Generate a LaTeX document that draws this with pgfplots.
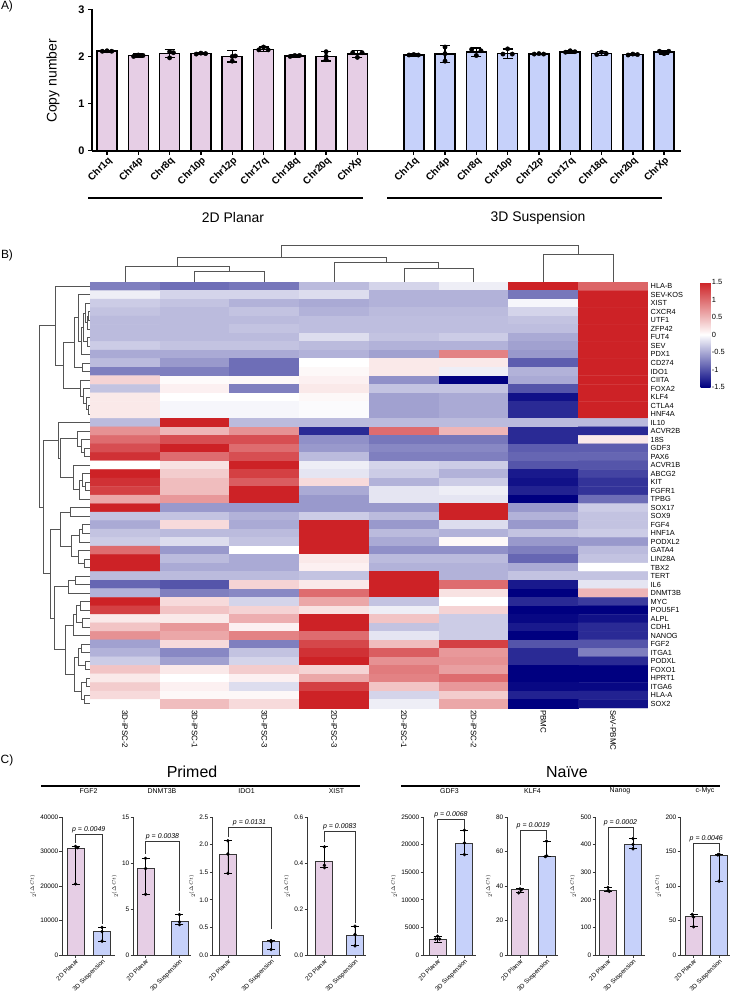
\documentclass[border=0pt]{standalone}
\usepackage{fontspec}
\setmainfont{Liberation Sans}
\usepackage{pgfplots}
\pgfplotsset{compat=1.18}

\definecolor{pinkbar}{RGB}{230,206,229}
\definecolor{bluebar}{RGB}{198,209,250}
\definecolor{dendro}{RGB}{85,85,85}
\definecolor{caxis}{RGB}{55,55,55}

% dendrogram pieces: child positions, node height, child heights
\newcommand{\rn}[5]{\addplot[dendro, line width=0.7bp] coordinates {(#4,#1) (#3,#1) (#3,#2) (#5,#2)};}
\newcommand{\cn}[5]{\addplot[dendro, line width=0.7bp] coordinates {(#1,#4) (#1,#3) (#2,#3) (#2,#5)};}

\pgfplotsset{
  /pgf/number format/assume math mode=true,
  qpcr/.style={
    scale only axis, height=138bp, ymin=0, clip=false,
    axis lines*=left, axis line style={caxis, line width=0.9bp},
    tick style={caxis, line width=0.8bp}, major tick length=2.5bp, tick align=outside,
    xtick={1,2}, xticklabels={2D Planar,3D Suspension},
    xticklabel style={rotate=45, anchor=north east, font=\fontsize{6.3}{7}\selectfont, inner sep=0.5bp},
    yticklabel style={font=\fontsize{6.5}{7}\selectfont, inner sep=1bp},
    ylabel={$2^{(\Delta Ct)}$}, ylabel style={font=\fontsize{5}{6}\selectfont},
    title style={font=\fontsize{7}{8}\selectfont, at={(0.5,1)}, anchor=south, yshift=14bp},
    scaled y ticks=false, /pgf/number format/1000 sep={},
  },
  cbar/.style={ybar, bar shift=0pt, bar width=17bp, draw=caxis, line width=0.9bp,
    /pgfplots/error bars/y dir=both, /pgfplots/error bars/y explicit,
    /pgfplots/error bars/error bar style={black, line width=0.9bp},
    /pgfplots/error bars/error mark options={black, line width=0.9bp, mark size=4bp, rotate=90}},
  cpts/.style={only marks, mark=*, mark size=1.5bp, black},
  pbr/.style={caxis, line width=0.9bp},
}
\newcommand{\pval}[2]{\node[above, font=\fontsize{7}{8}\selectfont\itshape, inner sep=1.5bp] at (axis cs:1.5,#1) {p = #2};}

\begin{document}
\begin{tikzpicture}
\useasboundingbox (0,0) rectangle (732bp,-992bp);

% ---------------- A) copy number ----------------
\node[font=\fontsize{12}{14}\selectfont] at (7bp,-6bp) {A)};
\begin{axis}[
  at={(92bp,-9.3bp)}, anchor=north west, scale only axis,
  width=589bp, height=141.4bp,
  xmin=-0.48, xmax=18.34, ymin=0, ymax=3,
  axis lines*=left, axis line style={line width=1.6bp},
  ytick={0,1,2,3},
  yticklabel style={font=\fontsize{11}{12}\selectfont\bfseries},
  xtick={0,1,2,3,4,5,6,7,8,9.8,10.8,11.8,12.8,13.8,14.8,15.8,16.8,17.8},
  xticklabels={Chr1q,Chr4p,Chr8q,Chr10p,Chr12p,Chr17q,Chr18q,Chr20q,ChrXp,
               Chr1q,Chr4p,Chr8q,Chr10p,Chr12p,Chr17q,Chr18q,Chr20q,ChrXp},
  xticklabel style={rotate=45, anchor=north east, font=\fontsize{10}{11}\selectfont\bfseries, inner sep=0.5bp},
  tick style={line width=1.4bp, black}, major tick length=4bp, tick align=outside,
  clip=false,
]
\addplot[ybar, bar shift=0pt, bar width=20bp, fill=pinkbar, draw=black, line width=1.6bp,
  error bars/.cd, y dir=both, y explicit,
  error bar style={black, line width=1.3bp},
  error mark options={black, line width=1.3bp, mark size=5bp, rotate=90}]
coordinates {
  (0,2.11) +- (0,0.02) (1,2.02) +- (0,0.03) (2,2.06) +- (0,0.09)
  (3,2.06) +- (0,0.02) (4,2.00) +- (0,0.12) (5,2.15) +- (0,0.05)
  (6,2.01) +- (0,0.02) (7,2.00) +- (0,0.10) (8,2.05) +- (0,0.07)
};
\addplot[ybar, bar shift=0pt, bar width=20bp, fill=bluebar, draw=black, line width=1.6bp,
  error bars/.cd, y dir=both, y explicit,
  error bar style={black, line width=1.3bp},
  error mark options={black, line width=1.3bp, mark size=5bp, rotate=90}]
coordinates {
  (9.8,2.03) +- (0,0.02) (10.8,2.05) +- (0,0.18) (11.8,2.09) +- (0,0.09)
  (12.8,2.06) +- (0,0.10) (13.8,2.05) +- (0,0.01) (14.8,2.10) +- (0,0.03)
  (15.8,2.06) +- (0,0.04) (16.8,2.04) +- (0,0.02) (17.8,2.09) +- (0,0.04)
};
\addplot[only marks, mark=*, mark size=2.2bp, black] coordinates {
  (-0.15,2.11) (0,2.12) (0.15,2.11) (0.85,2.00) (1,2.03) (1.15,2.02)
  (2,2.10) (2,1.97) (2.12,2.08) (2.85,2.05) (3,2.07) (3.15,2.06)
  (4,2.00) (4,1.90) (4.1,2.01) (4.85,2.14) (5,2.20) (5.15,2.14)
  (5.85,2.00) (6,2.02) (6.15,2.02) (7,2.10) (7,2.00) (7,1.93)
  (7.85,2.08) (8,1.98) (8.15,2.08)
  (9.65,2.03) (9.8,2.04) (9.95,2.03) (10.8,2.20) (10.8,2.06) (10.8,1.90)
  (11.65,2.15) (11.8,2.02) (11.95,2.12) (12.65,2.05) (12.8,2.16) (12.95,2.05)
  (13.65,2.05) (13.8,2.06) (13.95,2.05) (14.65,2.09) (14.8,2.12) (14.95,2.10)
  (15.65,2.04) (15.8,2.09) (15.95,2.06) (16.65,2.03) (16.8,2.05) (16.95,2.04)
  (17.65,2.11) (17.8,2.06) (17.95,2.11)
};
\end{axis}
\node[rotate=90, font=\fontsize{14}{16}\selectfont] at (53bp,-81bp) {Copy number};
\draw[line width=2.8bp] (88bp,-198bp) -- (363bp,-198bp);
\draw[line width=2.8bp] (387bp,-198bp) -- (662bp,-198bp);
\node[font=\fontsize{14}{16}\selectfont] at (233bp,-218bp) {2D Planar};
\node[font=\fontsize{14}{16}\selectfont] at (538bp,-218bp) {3D Suspension};

% ---------------- B) heatmap ----------------
\node[font=\fontsize{12}{14}\selectfont] at (7bp,-255bp) {B)};
\begin{axis}[
  at={(90bp,-282bp)}, anchor=north west, scale only axis,
  width=558bp, height=426bp,
  xmin=0.5, xmax=8.5, ymin=0.5, ymax=50.5, y dir=reverse,
  axis line style={draw=none}, tick style={draw=none},
  xtick={1,...,8},
  xticklabels={3D-iPSC-2,3D-iPSC-1,3D-iPSC-3,2D-iPSC-3,2D-iPSC-1,2D-iPSC-2,PBMC,SeV-PBMC},
  xticklabel style={rotate=-90, anchor=west, font=\fontsize{8}{9}\selectfont, inner sep=2bp},
  ytick={1,...,50},
  yticklabels={HLA-B,SEV-KOS,XIST,CXCR4,UTF1,ZFP42,FUT4,SEV,PDX1,CD274,IDO1,CIITA,FOXA2,KLF4,CTLA4,HNF4A,
    IL10,ACVR2B,18S,GDF3,PAX6,ACVR1B,ABCG2,KIT,FGFR1,TPBG,SOX17,SOX9,FGF4,HNF1A,PODXL2,GATA4,LIN28A,TBX2,
    TERT,IL6,DNMT3B,MYC,POU5F1,ALPL,CDH1,NANOG,FGF2,ITGA1,PODXL,FOXO1,HPRT1,ITGA6,HLA-A,SOX2},
  yticklabel pos=right,
  yticklabel style={font=\fontsize{7.4}{8}\selectfont, inner sep=0pt, xshift=2.5bp},
  colormap={hm}{rgb255(0cm)=(0,0,128); rgb255(1cm)=(255,255,255); rgb255(2cm)=(205,34,38)},
  point meta min=-1.5, point meta max=1.5,
  colorbar,
  colorbar style={at={(1.0945,1)}, anchor=north west, width=10bp, height=105bp,
    ytick={-1.5,-1,-0.5,0,0.5,1,1.5},
    yticklabel style={font=\fontsize{7.5}{8}\selectfont, inner sep=1bp},
    tick style={draw=none}, axis line style={draw=none}},
]
\addplot[matrix plot*, mesh/cols=8, point meta=explicit] coordinates {
(1,1)[-0.75] (2,1)[-0.85] (3,1)[-0.8] (4,1)[-0.4] (5,1)[-0.25] (6,1)[-0.1] (7,1)[1.5] (8,1)[1.05]
(1,2)[-0.1] (2,2)[-0.25] (3,2)[-0.25] (4,2)[-0.2] (5,2)[-0.45] (6,2)[-0.45] (7,2)[-0.8] (8,2)[1.5]
(1,3)[-0.3] (2,3)[-0.35] (3,3)[-0.45] (4,3)[-0.5] (5,3)[-0.45] (6,3)[-0.45] (7,3)[-0.05] (8,3)[1.5]
(1,4)[-0.35] (2,4)[-0.4] (3,4)[-0.35] (4,4)[-0.45] (5,4)[-0.4] (6,4)[-0.4] (7,4)[-0.25] (8,4)[1.5]
(1,5)[-0.4] (2,5)[-0.4] (3,5)[-0.4] (4,5)[-0.38] (5,5)[-0.38] (6,5)[-0.38] (7,5)[-0.35] (8,5)[1.5]
(1,6)[-0.4] (2,6)[-0.4] (3,6)[-0.35] (4,6)[-0.38] (5,6)[-0.38] (6,6)[-0.38] (7,6)[-0.38] (8,6)[1.5]
(1,7)[-0.4] (2,7)[-0.4] (3,7)[-0.4] (4,7)[-0.2] (5,7)[-0.35] (6,7)[-0.3] (7,7)[-0.5] (8,7)[1.5]
(1,8)[-0.3] (2,8)[-0.35] (3,8)[-0.35] (4,8)[-0.4] (5,8)[-0.45] (6,8)[-0.45] (7,8)[-0.55] (8,8)[1.5]
(1,9)[-0.5] (2,9)[-0.5] (3,9)[-0.5] (4,9)[-0.45] (5,9)[-0.55] (6,9)[0.85] (7,9)[-0.6] (8,9)[1.5]
(1,10)[-0.4] (2,10)[-0.6] (3,10)[-0.85] (4,10)[0.0] (5,10)[0.15] (6,10)[0.15] (7,10)[-0.95] (8,10)[1.5]
(1,11)[-0.75] (2,11)[-0.75] (3,11)[-0.85] (4,11)[0.05] (5,11)[0.15] (6,11)[-0.1] (7,11)[-0.45] (8,11)[1.5]
(1,12)[0.3] (2,12)[0.03] (3,12)[0.05] (4,12)[0.1] (5,12)[-0.65] (6,12)[-1.5] (7,12)[-0.5] (8,12)[1.5]
(1,13)[-0.35] (2,13)[0.1] (3,13)[-0.75] (4,13)[0.15] (5,13)[-0.35] (6,13)[-0.35] (7,13)[-1.0] (8,13)[1.5]
(1,14)[0.15] (2,14)[0.0] (3,14)[0.0] (4,14)[0.05] (5,14)[-0.55] (6,14)[-0.5] (7,14)[-1.4] (8,14)[1.5]
(1,15)[0.15] (2,15)[-0.05] (3,15)[-0.05] (4,15)[-0.02] (5,15)[-0.55] (6,15)[-0.5] (7,15)[-1.25] (8,15)[1.5]
(1,16)[0.15] (2,16)[-0.05] (3,16)[-0.05] (4,16)[-0.02] (5,16)[-0.55] (6,16)[-0.5] (7,16)[-1.25] (8,16)[1.5]
(1,17)[-0.4] (2,17)[1.5] (3,17)[-0.4] (4,17)[-0.4] (5,17)[-0.4] (6,17)[-0.4] (7,17)[-0.4] (8,17)[-0.4]
(1,18)[0.75] (2,18)[0.5] (3,18)[0.75] (4,18)[-1.25] (5,18)[1.0] (6,18)[0.5] (7,18)[-1.25] (8,18)[-1.25]
(1,19)[1.0] (2,19)[1.2] (3,19)[1.2] (4,19)[-0.65] (5,19)[-0.8] (6,19)[-0.8] (7,19)[-1.25] (8,19)[0.15]
(1,20)[1.2] (2,20)[1.5] (3,20)[1.0] (4,20)[-0.6] (5,20)[-0.7] (6,20)[-0.7] (7,20)[-0.95] (8,20)[-0.95]
(1,21)[1.4] (2,21)[1.0] (3,21)[1.2] (4,21)[-0.4] (5,21)[-0.75] (6,21)[-0.75] (7,21)[-0.9] (8,21)[-0.9]
(1,22)[0.0] (2,22)[0.2] (3,22)[1.5] (4,22)[-0.1] (5,22)[-0.25] (6,22)[-0.3] (7,22)[-1.0] (8,22)[-1.0]
(1,23)[1.5] (2,23)[0.35] (3,23)[1.3] (4,23)[-0.15] (5,23)[-0.3] (6,23)[-0.45] (7,23)[-1.35] (8,23)[-1.1]
(1,24)[1.4] (2,24)[0.45] (3,24)[1.1] (4,24)[0.25] (5,24)[-0.45] (6,24)[-0.3] (7,24)[-1.4] (8,24)[-1.2]
(1,25)[1.3] (2,25)[0.45] (3,25)[1.5] (4,25)[-0.5] (5,25)[-0.15] (6,25)[-0.1] (7,25)[-1.3] (8,25)[-1.2]
(1,26)[0.6] (2,26)[0.7] (3,26)[1.5] (4,26)[-0.6] (5,26)[-0.15] (6,26)[-0.15] (7,26)[-1.5] (8,26)[-0.85]
(1,27)[1.5] (2,27)[-0.6] (3,27)[-0.6] (4,27)[-0.6] (5,27)[-0.6] (6,27)[1.5] (7,27)[-0.6] (8,27)[-0.3]
(1,28)[-0.35] (2,28)[-0.35] (3,28)[-0.45] (4,28)[-0.3] (5,28)[-0.4] (6,28)[1.5] (7,28)[-0.45] (8,28)[-0.35]
(1,29)[-0.5] (2,29)[0.25] (3,29)[-0.5] (4,29)[1.5] (5,29)[-0.6] (6,29)[-0.2] (7,29)[-0.6] (8,29)[-0.35]
(1,30)[-0.35] (2,30)[-0.4] (3,30)[-0.4] (4,30)[1.5] (5,30)[-0.4] (6,30)[-0.45] (7,30)[-0.35] (8,30)[-0.3]
(1,31)[-0.3] (2,31)[-0.2] (3,31)[-0.35] (4,31)[1.5] (5,31)[-0.5] (6,31)[0.05] (7,31)[-0.6] (8,31)[-0.6]
(1,32)[1.0] (2,32)[-0.6] (3,32)[0.0] (4,32)[1.5] (5,32)[-0.65] (6,32)[-0.65] (7,32)[-0.75] (8,32)[-0.4]
(1,33)[1.5] (2,33)[-0.4] (3,33)[-0.5] (4,33)[0.15] (5,33)[-0.4] (6,33)[-0.4] (7,33)[-0.9] (8,33)[-0.35]
(1,34)[1.5] (2,34)[-0.5] (3,34)[-0.5] (4,34)[0.1] (5,34)[-0.45] (6,34)[-0.45] (7,34)[-0.5] (8,34)[0.0]
(1,35)[-0.4] (2,35)[-0.4] (3,35)[-0.4] (4,35)[-0.35] (5,35)[1.5] (6,35)[-0.45] (7,35)[-0.35] (8,35)[-0.35]
(1,36)[-0.9] (2,36)[-1.0] (3,36)[0.3] (4,36)[0.15] (5,36)[1.5] (6,36)[1.0] (7,36)[-1.35] (8,36)[-0.15]
(1,37)[-0.45] (2,37)[-0.75] (3,37)[-0.7] (4,37)[1.0] (5,37)[1.5] (6,37)[0.2] (7,37)[-1.5] (8,37)[0.5]
(1,38)[1.5] (2,38)[0.25] (3,38)[-0.25] (4,38)[0.6] (5,38)[-0.35] (6,38)[0.0] (7,38)[-1.25] (8,38)[-1.15]
(1,39)[1.3] (2,39)[0.4] (3,39)[0.3] (4,39)[0.2] (5,39)[-0.1] (6,39)[0.3] (7,39)[-1.5] (8,39)[-1.5]
(1,40)[0.15] (2,40)[0.15] (3,40)[0.55] (4,40)[1.5] (5,40)[0.4] (6,40)[-0.3] (7,40)[-1.45] (8,40)[-1.4]
(1,41)[0.4] (2,41)[0.7] (3,41)[0.1] (4,41)[1.5] (5,41)[-0.35] (6,41)[-0.3] (7,41)[-1.35] (8,41)[-1.25]
(1,42)[0.75] (2,42)[0.6] (3,42)[0.85] (4,42)[1.0] (5,42)[-0.15] (6,42)[-0.3] (7,42)[-1.5] (8,42)[-1.25]
(1,43)[-0.55] (2,43)[0.25] (3,43)[-0.75] (4,43)[1.25] (5,43)[0.45] (6,43)[1.3] (7,43)[-1.0] (8,43)[-1.0]
(1,44)[-0.45] (2,44)[-0.7] (3,44)[-0.35] (4,44)[1.4] (5,44)[1.1] (6,44)[0.7] (7,44)[-1.25] (8,44)[-0.75]
(1,45)[-0.3] (2,45)[-0.55] (3,45)[-0.25] (4,45)[1.5] (5,45)[0.75] (6,45)[0.75] (7,45)[-1.25] (8,45)[-1.25]
(1,46)[0.4] (2,46)[0.15] (3,46)[0.35] (4,46)[0.3] (5,46)[0.9] (6,46)[0.65] (7,46)[-1.5] (8,46)[-1.5]
(1,47)[0.15] (2,47)[0.0] (3,47)[0.1] (4,47)[0.6] (5,47)[0.85] (6,47)[1.0] (7,47)[-1.5] (8,47)[-1.5]
(1,48)[0.35] (2,48)[0.1] (3,48)[-0.2] (4,48)[1.3] (5,48)[0.4] (6,48)[0.7] (7,48)[-1.45] (8,48)[-1.45]
(1,49)[0.25] (2,49)[0.05] (3,49)[0.05] (4,49)[1.5] (5,49)[-0.25] (6,49)[0.35] (7,49)[-1.3] (8,49)[-1.3]
(1,50)[0.0] (2,50)[0.45] (3,50)[0.25] (4,50)[1.5] (5,50)[-0.1] (6,50)[0.6] (7,50)[-1.5] (8,50)[-1.4]
};
\end{axis}

% column dendrogram
\begin{axis}[at={(90bp,-282bp)}, anchor=south west, scale only axis,
  width=558bp, height=37bp, xmin=0.5, xmax=8.5, ymin=0, ymax=37, hide axis, clip=false]
\cn{2}{3}{11}{0}{0}
\cn{1}{2.5}{16}{0}{11}
\cn{5}{6}{14}{0}{0}
\cn{4}{5.5}{20}{0}{14}
\cn{1.75}{4.75}{25}{16}{20}
\cn{7}{8}{28}{0}{0}
\cn{3.25}{7.5}{37}{25}{28}
\end{axis}

% row dendrogram
\begin{axis}[at={(90bp,-282bp)}, anchor=north east, scale only axis,
  width=52bp, height=426bp, xmin=0, xmax=52, x dir=reverse,
  ymin=0.5, ymax=50.5, y dir=reverse, hide axis, clip=false]
\rn{4}{5}{2}{0}{0}
\rn{4.5}{6}{3}{2}{0}
\rn{3}{5.25}{5}{0}{3}
\rn{7}{8}{3}{0}{0}
\rn{4.125}{7.5}{7}{5}{3}
\rn{5.8125}{9}{9}{7}{0}
\rn{2}{7.40625}{12}{0}{9}
\rn{10}{11}{8}{0}{0}
\rn{4.703}{10.5}{16}{12}{8}
\rn{15}{16}{2}{0}{0}
\rn{14}{15.5}{4}{0}{2}
\rn{13}{14.75}{7}{0}{4}
\rn{12}{13.875}{10}{0}{7}
\rn{7.6016}{12.9375}{27}{16}{10}
\rn{1}{10.2695}{35}{0}{27}
\rn{20}{21}{6}{0}{0}
\rn{19}{20.5}{9}{0}{6}
\rn{18}{19.75}{13}{0}{9}
\rn{24}{25}{5}{0}{0}
\rn{23}{24.5}{8}{0}{5}
\rn{23.75}{26}{11}{8}{0}
\rn{22}{24.875}{17}{0}{11}
\rn{18.875}{23.4375}{30}{13}{17}
\rn{17}{21.15625}{32}{0}{30}
\rn{27}{28}{20}{0}{0}
\rn{29}{30}{8}{0}{0}
\rn{29.5}{31}{11}{8}{0}
\rn{33}{34}{6}{0}{0}
\rn{32}{33.5}{12}{0}{6}
\rn{30.25}{32.75}{19}{11}{12}
\rn{27.5}{31.5}{30}{20}{19}
\rn{35}{36}{15}{0}{0}
\rn{35.5}{37}{22}{15}{0}
\rn{38}{39}{10}{0}{0}
\rn{40}{41}{8}{0}{0}
\rn{38.5}{40.5}{14}{10}{8}
\rn{39.5}{42}{17}{14}{0}
\rn{43}{44}{9}{0}{0}
\rn{45}{46}{5}{0}{0}
\rn{43.5}{45.5}{12}{9}{5}
\rn{47}{48}{4}{0}{0}
\rn{49}{50}{6}{0}{0}
\rn{47.5}{49.5}{9}{4}{6}
\rn{44.5}{48.5}{16}{12}{9}
\rn{40.75}{46.5}{25}{17}{16}
\rn{36.25}{43.625}{36}{22}{25}
\rn{29.5}{39.9375}{40}{30}{36}
\rn{19.078}{34.71875}{47}{32}{40}
\rn{5.6348}{26.898}{51}{35}{47}
\end{axis}

% ---------------- C) qPCR ----------------
\node[font=\fontsize{12}{14}\selectfont] at (7bp,-760bp) {C)};
\node[font=\fontsize{16}{18}\selectfont] at (192bp,-772bp) {Primed};
\node[font=\fontsize{16}{18}\selectfont] at (567bp,-772bp) {Naïve};
\draw[line width=1.2bp] (41bp,-786bp) -- (360bp,-786bp);
\draw[line width=1.2bp] (401bp,-786bp) -- (720bp,-786bp);

\begin{axis}[qpcr, at={(62bp,-817bp)}, anchor=north west, width=53bp,
  xmin=0.49, xmax=2.49, ymax=40000, ytick={0,10000,20000,30000,40000}, title={FGF2}]
\addplot[cbar, fill=pinkbar] coordinates {(1,31000) += (0,500) -= (0,10500)};
\addplot[cbar, fill=bluebar] coordinates {(2,6800) += (0,1200) -= (0,2800)};
\addplot[cpts] coordinates {(1,31500) (1.08,31100) (1,20600) (2,8000) (2,6800) (2,4000)};
\addplot[pbr] coordinates {(1,32500) (1,35000) (2,35000) (2,9000)};
\pval{35000}{0.0049}
\end{axis}

\begin{axis}[qpcr, at={(133bp,-817bp)}, anchor=north west, width=58bp,
  xmin=0.63, xmax=2.34, ymax=15, ytick={0,5,10,15}, title={DNMT3B}]
\addplot[cbar, fill=pinkbar] coordinates {(1,9.4) += (0,1.1) -= (0,2.8)};
\addplot[cbar, fill=bluebar] coordinates {(2,3.65) += (0,0.75) -= (0,0.35)};
\addplot[cpts] coordinates {(1,10.5) (1,9.4) (1,6.6) (2,4.4) (2,3.6) (2,3.3)};
\addplot[pbr] coordinates {(1,11) (1,12.3) (2,12.3) (2,4.8)};
\pval{12.3}{0.0038}
\end{axis}

\begin{axis}[qpcr, at={(212bp,-817bp)}, anchor=north west, width=69bp,
  xmin=0.63, xmax=2.23, ymax=2.5, ytick={0,0.5,1,1.5,2,2.5}, title={IDO1},
  yticklabel style={/pgf/number format/fixed, /pgf/number format/zerofill, /pgf/number format/precision=1}]
\addplot[cbar, fill=pinkbar] coordinates {(1,1.83) += (0,0.24) -= (0,0.35)};
\addplot[cbar, fill=bluebar] coordinates {(2,0.24) += (0,0.02) -= (0,0.14)};
\addplot[cpts] coordinates {(1,2.07) (1,1.83) (1,1.48) (2,0.26) (2,0.24) (2,0.1)};
\addplot[pbr] coordinates {(1,2.13) (1,2.31) (2,2.31) (2,0.48)};
\pval{2.31}{0.0131}
\end{axis}

\begin{axis}[qpcr, at={(307bp,-817bp)}, anchor=north west, width=59bp,
  xmin=0.43, xmax=2.36, ymax=0.6, ytick={0,0.2,0.4,0.6}, title={XIST},
  yticklabel style={/pgf/number format/fixed, /pgf/number format/zerofill, /pgf/number format/precision=1}]
\addplot[cbar, fill=pinkbar] coordinates {(1,0.405) += (0,0.065) -= (0,0.025)};
\addplot[cbar, fill=bluebar] coordinates {(2,0.085) += (0,0.04) -= (0,0.045)};
\addplot[cpts] coordinates {(1,0.47) (1,0.39) (1,0.38) (2,0.125) (2,0.09) (2,0.04)};
\addplot[pbr] coordinates {(1,0.49) (1,0.538) (2,0.538) (2,0.14)};
\pval{0.538}{0.0083}
\end{axis}

\begin{axis}[qpcr, at={(423bp,-817bp)}, anchor=north west, width=53bp,
  xmin=0.46, xmax=2.43, ymax=25000, ytick={0,5000,10000,15000,20000,25000}, title={GDF3}]
\addplot[cbar, fill=pinkbar] coordinates {(1,2830) += (0,570) -= (0,530)};
\addplot[cbar, fill=bluebar] coordinates {(2,20180) += (0,2420) -= (0,1980)};
\addplot[cpts] coordinates {(1,3400) (1.08,2900) (0.92,2900) (2,22600) (2,20300) (2,18200)};
\addplot[pbr] coordinates {(1,4000) (1,24500) (2,24500) (2,22900)};
\pval{24500}{0.0068}
\end{axis}

\begin{axis}[qpcr, at={(507bp,-817bp)}, anchor=north west, width=51bp,
  xmin=0.51, xmax=2.43, ymax=80, ytick={0,20,40,60,80}, title={KLF4}]
\addplot[cbar, fill=pinkbar] coordinates {(1,38) += (0,0.5) -= (0,2)};
\addplot[cbar, fill=bluebar] coordinates {(2,57.4) += (0,8.6) -= (0,0.4)};
\addplot[cpts] coordinates {(1,38.3) (1.05,37.8) (0.95,36) (2,66) (2,57.5) (1.95,57)};
\addplot[pbr] coordinates {(1,40.5) (1,72.3) (2,72.3) (2,67.5)};
\pval{72.3}{0.0019}
\end{axis}

\begin{axis}[qpcr, at={(595bp,-817bp)}, anchor=north west, width=50bp,
  xmin=0.48, xmax=2.48, ymax=500, ytick={0,100,200,300,400,500}, title={Nanog}]
\addplot[cbar, fill=pinkbar] coordinates {(1,232.5) += (0,12.5) -= (0,3)};
\addplot[cbar, fill=bluebar] coordinates {(2,401) += (0,21) -= (0,16)};
\addplot[cpts] coordinates {(1,245) (1,233) (1.05,231) (2,422) (2,401) (2,385)};
\addplot[pbr] coordinates {(1,252) (1,461) (2,461) (2,428)};
\pval{461}{0.0002}
\end{axis}

\begin{axis}[qpcr, at={(680bp,-817bp)}, anchor=north west, width=50bp,
  xmin=0.47, xmax=2.43, ymax=200, ytick={0,50,100,150,200}, title={c-Myc}]
\addplot[cbar, fill=pinkbar] coordinates {(1,55.4) += (0,3.6) -= (0,14.4)};
\addplot[cbar, fill=bluebar] coordinates {(2,144.6) += (0,1.4) -= (0,37.6)};
\addplot[cpts] coordinates {(0.95,59) (1,55) (1,41) (2,146) (1.95,145) (2,107)};
\addplot[pbr] coordinates {(1,62) (1,161.4) (2,161.4) (2,149)};
\pval{161.4}{0.0046}
\end{axis}

\end{tikzpicture}
\end{document}
